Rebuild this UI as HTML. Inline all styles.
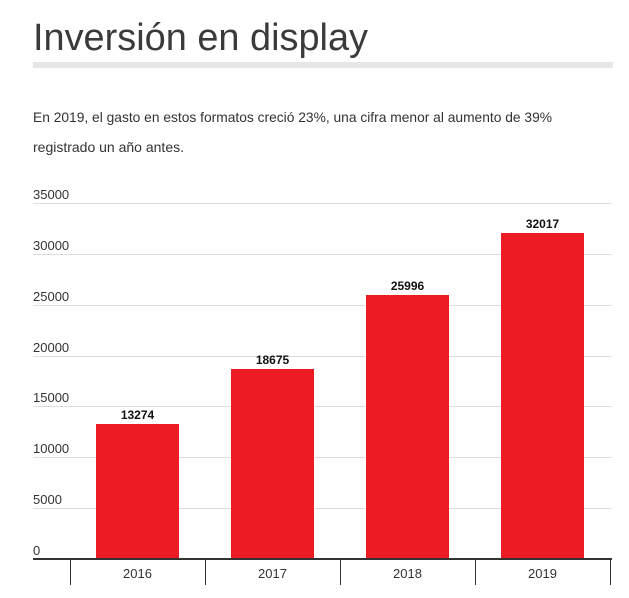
<!DOCTYPE html>
<html><head><meta charset="utf-8"><style>
body{margin:0;background:#fff;width:629px;height:593px;overflow:hidden;font-family:"Liberation Sans",sans-serif}
</style></head><body>
<svg width="629" height="593" xmlns="http://www.w3.org/2000/svg" font-family="Liberation Sans, sans-serif">
<text x="33" y="50" font-size="38" fill="#3a3a3a" textLength="335" lengthAdjust="spacingAndGlyphs">Inversión en display</text>
<rect x="33" y="62" width="580" height="6" fill="#e6e6e6"/>
<text x="33" y="122" font-size="14" fill="#333" textLength="519" lengthAdjust="spacingAndGlyphs">En 2019, el gasto en estos formatos creció 23%, una cifra menor al aumento de 39%</text>
<text x="33" y="152" font-size="14" fill="#333">registrado un año antes.</text>
<g stroke="#ddd" stroke-width="1">
<line x1="33" x2="612" y1="203.5" y2="203.5"/>
<line x1="33" x2="612" y1="254.5" y2="254.5"/>
<line x1="33" x2="612" y1="305.5" y2="305.5"/>
<line x1="33" x2="612" y1="356.5" y2="356.5"/>
<line x1="33" x2="612" y1="406.5" y2="406.5"/>
<line x1="33" x2="612" y1="457.5" y2="457.5"/>
<line x1="33" x2="612" y1="508.5" y2="508.5"/>
</g>
<g font-size="13" fill="#333">
<text x="33" y="199">35000</text>
<text x="33" y="250">30000</text>
<text x="33" y="301">25000</text>
<text x="33" y="352">20000</text>
<text x="33" y="402">15000</text>
<text x="33" y="453">10000</text>
<text x="33" y="504">5000</text>
<text x="33" y="555">0</text>
</g>
<g fill="#ed1c24">
<rect x="96" y="424" width="83" height="135"/>
<rect x="231" y="369" width="83" height="190"/>
<rect x="366" y="295" width="83" height="264"/>
<rect x="501" y="233" width="83" height="326"/>
</g>
<g font-size="12" font-weight="bold" fill="#111" text-anchor="middle">
<text x="137.5" y="419">13274</text>
<text x="272.5" y="364">18675</text>
<text x="407.5" y="290">25996</text>
<text x="542.5" y="228">32017</text>
</g>
<line x1="33" x2="612" y1="559" y2="559" stroke="#333" stroke-width="2"/>
<g stroke="#333" stroke-width="1">
<line x1="70.5" x2="70.5" y1="559" y2="585"/>
<line x1="205.5" x2="205.5" y1="559" y2="585"/>
<line x1="340.5" x2="340.5" y1="559" y2="585"/>
<line x1="475.5" x2="475.5" y1="559" y2="585"/>
<line x1="610.5" x2="610.5" y1="559" y2="585"/>
</g>
<g font-size="13" fill="#333" text-anchor="middle">
<text x="137.5" y="578">2016</text>
<text x="272.5" y="578">2017</text>
<text x="407.5" y="578">2018</text>
<text x="542.5" y="578">2019</text>
</g>
</svg>
</body></html>
